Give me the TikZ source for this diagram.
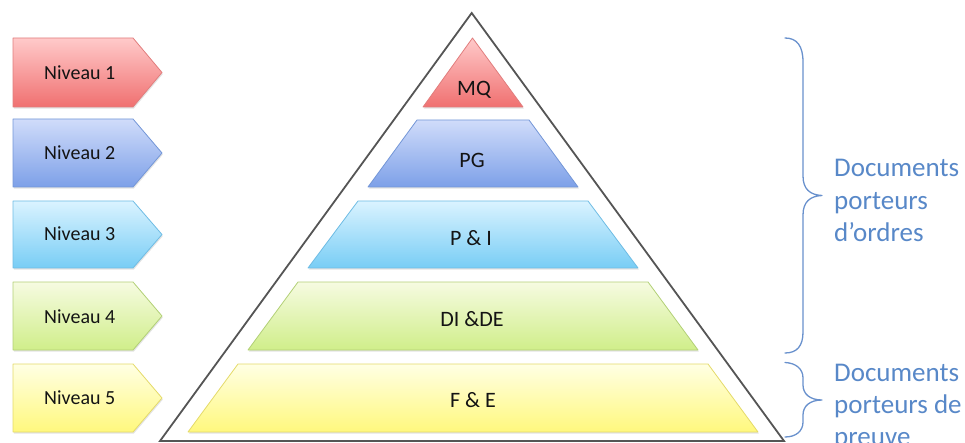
\documentclass[tikz,border=0pt]{standalone}
\usepackage{fontspec}
\setmainfont{Carlito}
\usetikzlibrary{shadows}
\definecolor{rtop}{RGB}{255,202,202}
\definecolor{rbot}{RGB}{240,112,112}
\definecolor{rdraw}{RGB}{225,125,125}
\definecolor{btop}{RGB}{208,220,250}
\definecolor{bbot}{RGB}{125,160,232}
\definecolor{bdraw}{RGB}{115,150,215}
\definecolor{ctop}{RGB}{218,243,255}
\definecolor{cbot}{RGB}{120,205,245}
\definecolor{cdraw}{RGB}{110,188,228}
\definecolor{gtop}{RGB}{246,251,225}
\definecolor{gbot}{RGB}{208,238,138}
\definecolor{gdraw}{RGB}{178,208,118}
\definecolor{ytop}{RGB}{255,255,228}
\definecolor{ybot}{RGB}{255,248,125}
\definecolor{ydraw}{RGB}{228,218,105}
\definecolor{bracecol}{RGB}{105,145,205}
\definecolor{doccol}{RGB}{88,136,200}
\definecolor{pyrline}{RGB}{85,85,85}
\begin{document}
\begin{tikzpicture}[x=1pt,y=-1pt,
  layer/.style={line width=0.8pt, line join=round,
    drop shadow={opacity=0.22, shadow xshift=0.8pt, shadow yshift=-1.6pt}},
  redl/.style={layer, top color=rtop, bottom color=rbot, draw=rdraw},
  bluel/.style={layer, top color=btop, bottom color=bbot, draw=bdraw},
  cyanl/.style={layer, top color=ctop, bottom color=cbot, draw=cdraw},
  greenl/.style={layer, top color=gtop, bottom color=gbot, draw=gdraw},
  yell/.style={layer, top color=ytop, bottom color=ybot, draw=ydraw},
  lvltxt/.style={font=\fontsize{20}{20}\selectfont, text=black!92, anchor=base west, inner sep=0pt},
  pyrtxt/.style={font=\fontsize{22}{22}\selectfont, text=black!92, anchor=base, inner sep=0pt},
  doctxt/.style={font=\fontsize{27}{27}\selectfont, text=doccol, anchor=base west, inner sep=0pt},
  bracestyle/.style={draw=bracecol, line width=1.3pt, line cap=round, line join=round}
]
\useasboundingbox (0,0) rectangle (965,443);

% big pyramid outline
\draw[pyrline, line width=1.8pt, line join=miter] (471.7,13) -- (784,441) -- (160,441) -- cycle;

% pyramid layers
\path[redl]   (472.5,38) -- (523,107) -- (423,107) -- cycle;
\path[bluel]  (417,120) -- (529,120) -- (578,187) -- (368,187) -- cycle;
\path[cyanl]  (358,201) -- (588,201) -- (638,268) -- (308,268) -- cycle;
\path[greenl] (298,282) -- (648,282) -- (698,350) -- (248,350) -- cycle;
\path[yell]   (238,364) -- (708,364) -- (758,432) -- (188,432) -- cycle;

\node[pyrtxt] (mq)  at (474,96)  {MQ};
\node[pyrtxt] (pg)  at (472,168) {PG};
\node[pyrtxt] (pi)  at (471,246) {P \& I};
\node[pyrtxt] (dide) at (472,326) {DI \&DE};
\node[pyrtxt] (fe)  at (473,407) {F \& E};

% level arrows
\path[redl]   (13,38)  -- (133,38)  -- (162,72.5)  -- (133,107) -- (13,107) -- cycle;
\path[bluel]  (13,119) -- (133,119) -- (162,153)   -- (133,187) -- (13,187) -- cycle;
\path[cyanl]  (13,201) -- (133,201) -- (162,234.5) -- (133,268) -- (13,268) -- cycle;
\path[greenl] (13,282) -- (133,282) -- (162,316)   -- (133,350) -- (13,350) -- cycle;
\path[yell]   (13,364) -- (133,364) -- (162,398)   -- (133,432) -- (13,432) -- cycle;

\node[lvltxt] (n1) at (44,80)  {Niveau 1};
\node[lvltxt] (n2) at (44,160) {Niveau 2};
\node[lvltxt] (n3) at (44,241) {Niveau 3};
\node[lvltxt] (n4) at (44,323) {Niveau 4};
\node[lvltxt] (n5) at (44,404) {Niveau 5};

% braces
\draw[bracestyle] (785,38) .. controls (797,38) and (803,46) .. (803,62)
  -- (803,176) .. controls (803,189) and (810,195) .. (822,195.5)
  .. controls (810,196) and (803,202) .. (803,215)
  -- (803,332) .. controls (803,346) and (797,353) .. (785,353);
\draw[bracestyle] (785,362.5) .. controls (796,363) and (803,369) .. (803,378)
  -- (803,385) .. controls (803,394) and (810,400) .. (822,400)
  .. controls (810,400) and (803,406) .. (803,415)
  -- (803,422) .. controls (803,431) and (796,437) .. (785,437);

% right texts
\node[doctxt] (d1a) at (834,177) {Documents};
\node[doctxt] (d1b) at (834,210) {porteurs};
\node[doctxt] (d1c) at (834,242) {d’ordres};
\node[doctxt] (d2a) at (834,381) {Documents};
\node[doctxt] (d2b) at (834,413) {porteurs de};
\node[doctxt] (d2c) at (834,445) {preuve};
\end{tikzpicture}
\end{document}
